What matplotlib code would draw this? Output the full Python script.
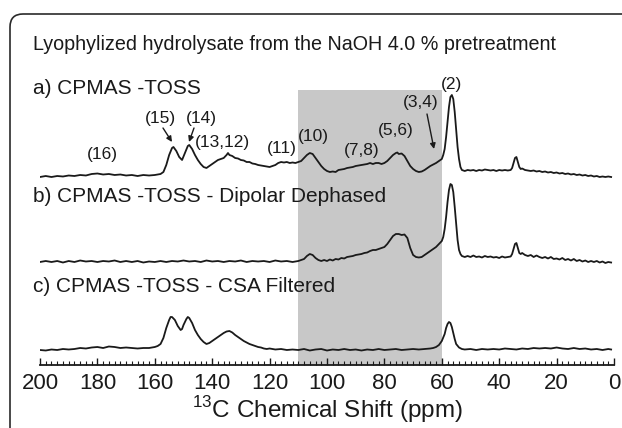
import matplotlib
matplotlib.use("Agg")
import matplotlib.pyplot as plt
from matplotlib.patches import FancyBboxPatch
from matplotlib.ticker import MultipleLocator

plt.rcParams['font.family'] = ['Liberation Sans', 'DejaVu Sans']
plt.rcParams['mathtext.fontset'] = 'custom'
plt.rcParams['mathtext.rm'] = 'Liberation Sans'

# ---------------- data (ppm, intensity above own baseline) ----------------
ppm_a = [200, 198, 196, 194, 192, 190, 188, 186, 184, 182, 180, 178, 176, 174, 172, 170, 168, 166, 164, 162,
         160, 158, 157, 156, 155, 154, 153.5, 152.5, 151.5, 150.5, 149.5, 148.5, 148, 147, 146, 145, 144, 143,
         142, 141, 140, 139, 138, 137, 136, 135, 134.5, 134, 133, 132, 131, 130, 129, 128, 127, 126, 125, 124,
         123, 122, 121, 120, 119, 118, 117, 116, 115, 114, 113, 112, 111, 110, 109, 108, 107, 106, 105, 104,
         103, 102, 101, 100, 99, 98, 97, 96, 95, 94, 93, 92, 91, 90, 89, 88, 87, 86, 85, 84, 83, 82, 81, 80,
         79, 78, 77, 76, 75.5, 75, 74, 73, 72, 71, 70, 69, 68, 67, 66, 65, 64, 63, 62, 61, 60, 59.5, 59, 58.5,
         58, 57.5, 57, 56.5, 56, 55.5, 55, 54.5, 54, 53.5, 53, 52, 51, 50, 49, 48, 47, 46, 45, 44, 43, 42, 41,
         40, 39, 38, 37, 36, 35.5, 35, 34.5, 34, 33.5, 33, 32.5, 32, 31, 30, 29, 28, 27, 26, 25, 24, 23, 22,
         21, 20, 19, 18, 17, 16, 15, 14, 13, 12, 11, 10, 9, 8, 7, 6, 5, 4, 3, 2, 1]
int_a = [0, 1, 0, 1, 0.5, 1.5, 1, 2, 1.5, 3, 3.5, 2.5, 3, 2, 2.5, 1.5, 2, 1, 2, 1.5,
         2, 3, 5, 12, 22, 29, 30, 26, 20, 17, 24, 31, 32, 28, 22, 17, 13, 10,
         9, 11, 13, 15, 17, 18, 19, 22, 24, 22, 21, 19, 18.5, 17, 16.5, 15, 15, 13.5, 13, 12,
         11.5, 11, 10.5, 10, 11, 12, 14, 15, 14.5, 15, 14, 14.5, 14, 15, 16, 19, 22, 24, 23, 19,
         15, 11, 8, 6, 5, 5.5, 5, 7, 7.5, 8, 9, 9.5, 10, 11, 11.5, 12, 12.5, 13, 14, 13, 14, 14, 13, 14,
         16, 19, 22, 24, 24.5, 23, 23.5, 21, 16, 11, 8, 6, 5, 5.5, 7, 9, 11, 12.5, 14, 16, 18, 22, 28, 40,
         55, 70, 80, 82, 78, 65, 48, 30, 18, 10, 7, 6, 7, 6.5, 7, 6, 7, 6.5, 7.5, 7, 6.5, 7, 6,
         7, 6.5, 7, 6.5, 7, 9, 14, 19, 20, 15, 10, 8, 8.5, 7, 6.5, 6, 6.5, 5.5, 6, 5, 5.5, 4.5, 5,
         4, 4.5, 3.5, 4, 3, 3.5, 2.5, 3, 2, 2.5, 1.5, 2, 1, 1.5, 0.5, 1, 0, 0.5, 0, 0.5, 0]

ppm_b = [200, 198, 196, 194, 192, 190, 188, 186, 184, 182, 180, 178, 176, 174, 172, 170, 168, 166, 164, 162,
         160, 158, 156, 154, 152, 150, 148, 146, 144, 142, 140, 138, 136, 134, 132, 130, 128, 126, 124, 122,
         120, 118, 116, 114, 112, 110, 108, 107, 106, 105, 104, 103, 102, 101, 100, 99, 98, 97, 96, 95, 94,
         93, 92, 91, 90, 89, 88, 87, 86, 85, 84, 83, 82, 81, 80, 79, 78, 77, 76, 75, 74, 73, 72, 71, 70, 69,
         68, 67, 66, 65, 64, 63, 62, 61, 60, 59.5, 59, 58.5, 58, 57.5, 57, 56.5, 56, 55.5, 55, 54.5, 54, 53.5,
         53, 52, 51, 50, 49, 48, 47, 46, 45, 44, 43, 42, 41, 40, 39, 38, 37, 36, 35.5, 35, 34.5, 34, 33.5, 33,
         32.5, 32, 31, 30, 29, 28, 27, 26, 25, 24, 23, 22, 21, 20, 19, 18, 17, 16, 15, 14, 13, 12, 11, 10, 9,
         8, 7, 6, 5, 4, 3, 2, 1]
int_b = [0, 1, 0, 1, -0.5, 1, 0, 1.5, 0.5, 1, 0, 1, 0.5, 1.5, 0, 1, 0, 1, -0.5, 0.5,
         0, 1, 0, 1, 0.5, 1.5, 0.5, 1, 0, 1.5, 0.5, 1, 0, 1, 0.5, 1.5, 0, 1, 0.5, 1,
         0, 1.5, 0.5, 1, 0, 1, 3, 6, 8, 7, 4, 2, 1, 2, 1, 2.5, 1.5, 3, 2.5, 4, 3.5,
         5, 5.5, 6, 7, 7.5, 8, 9, 9.5, 11, 12, 12, 13, 14, 15, 18, 22, 26, 28, 28, 27, 27.5, 24, 14, 7, 5,
         4.5, 5, 7, 9, 11, 13, 15, 18, 21, 25, 33, 45, 60, 72, 78, 77, 70, 55, 38, 22, 12, 8,
         6, 5, 6, 5, 6.5, 5, 5.5, 4.5, 6, 5, 5.5, 4.5, 5, 4, 5.5, 4.5, 5, 5.5, 8, 13, 18, 19, 14, 9,
         8, 9, 7, 6, 7, 5, 6.5, 5, 4, 5, 3.5, 5, 3, 3.5, 2.5, 4, 2, 3, 1.5, 3, 1, 2, 0.5, 1.5, 0,
         1, 0, 1, -0.5, 0.5, -1, 0, -0.5]

ppm_c = [200, 198, 196, 194, 192, 190, 188, 186, 184, 182, 180, 178, 176, 174, 172, 170, 168, 166, 164, 162,
         160, 159, 158, 157, 156, 155, 154.5, 154, 153, 152, 151, 150.5, 150, 149, 148.5, 148, 147, 146, 145,
         144, 143, 142, 141, 140, 139, 138, 137, 136, 135, 134, 133, 132, 131, 130, 129, 128, 127, 126, 125,
         124, 123, 122, 121, 120, 118, 116, 114, 112, 110, 108, 106, 104, 102, 100, 98, 96, 94, 92, 90, 88,
         86, 84, 82, 80, 78, 76, 74, 72, 70, 68, 66, 64, 63, 62, 61, 60, 59, 58.5, 58, 57.5, 57, 56.5, 56,
         55.5, 55, 54, 53, 52, 50, 48, 46, 44, 42, 40, 38, 36, 34, 32, 30, 28, 26, 24, 22, 20, 18, 16, 14,
         12, 10, 8, 6, 4, 2, 1]
int_c = [0, -0.5, 0.5, 0, 1, 0.5, 1, 2, 1.5, 2.5, 3, 2, 3.5, 3, 2, 2.5, 2, 1.5, 2, 2,
         3, 4, 6, 12, 22, 30, 33, 33, 30, 24, 20, 21, 25, 31, 33, 32, 27, 20, 15,
         11, 8, 6, 7, 9, 11, 13, 15, 17, 18.5, 19, 17.5, 15, 13, 11, 9, 7.5, 6, 5, 4,
         3, 2.5, 1.5, 1, 1.5, 0.5, 1, 0, 0.5, 0, 1, -0.5, 0.5, 1, -0.5, 0.5, 0, 1, 0, 0.5, -0.5,
         0.5, 0, 1, 0, 0.5, 1, 0, 0.5, 1, 0.5, 1, 1.5, 2, 3, 5, 9, 16, 22, 26, 28, 27, 23, 17,
         11, 6, 2.5, 1, 0.5, 1, 0, 1, 0.5, 1, 0.5, 1.5, 1, 0.5, 1.5, 1, 2, 1.5, 2, 1.5, 2.5, 1.5, 1, 2,
         1, 1.5, 0.5, 1, 0, 1, 0.5]

trace_labels = ["a) CPMAS -TOSS", "b) CPMAS -TOSS - Dipolar Dephased", "c) CPMAS -TOSS - CSA Filtered"]
title_text = "Lyophylized hydrolysate from the NaOH 4.0 % pretreatment"
peak_labels = ["(16)", "(15)", "(14)", "(13,12)", "(11)", "(10)", "(7,8)", "(5,6)", "(3,4)", "(2)"]
x_ticks = [200, 180, 160, 140, 120, 100, 80, 60, 40, 20, 0]
shade_range = (60, 110)

# ---------------- layout ----------------
W, H = 622, 428
fig = plt.figure(figsize=(W / 100, H / 100), dpi=100)
fig.patch.set_facecolor('white')

ax_left, ax_right, ax_top, ax_bottom = 40, 614, 60, 365
ax = fig.add_axes([ax_left / W, (H - ax_bottom) / H, (ax_right - ax_left) / W, (ax_bottom - ax_top) / H])
ax.set_xlim(200, 0)
ax.set_ylim(0, ax_bottom - ax_top)

def base(ypix):
    return ax_bottom - ypix

offsets = [base(177), base(262), base(350)]
line_kw = dict(color='#1a1a1a', lw=1.3)
for p, v, off in zip([ppm_a, ppm_b, ppm_c], [int_a, int_b, int_c], offsets):
    ax.plot(p, [off + y for y in v], **line_kw, zorder=3)

ax.axvspan(shade_range[0], shade_range[1], ymin=0, ymax=base(90) / (ax_bottom - ax_top),
           color='#c8c8c8', lw=0, zorder=1)

for s in ['top', 'left', 'right']:
    ax.spines[s].set_visible(False)
ax.spines['bottom'].set_linewidth(1.3)
ax.spines['bottom'].set_color('#1a1a1a')
ax.set_yticks([])
ax.set_xticks(x_ticks)
ax.set_xticklabels([str(t) for t in x_ticks])
ax.xaxis.set_minor_locator(MultipleLocator(2))
ax.tick_params(axis='x', which='major', direction='in', length=5, width=1.0, labelsize=16, pad=6,
               color='#1a1a1a', labelcolor='#1a1a1a')
ax.tick_params(axis='x', which='minor', direction='in', length=2.8, width=0.8, color='#1a1a1a')
ax.patch.set_alpha(0)

def fp(x, y):
    return (x, H - y)

txt_kw = dict(xycoords='figure pixels', color='#1a1a1a')
ax.annotate(title_text, xy=fp(33, 44), ha='left', va='center', fontsize=14.2, **txt_kw)
for lab, ypix in zip(trace_labels, [88, 197, 286]):
    ax.annotate(lab, xy=fp(33, ypix), ha='left', va='center', fontsize=15, **txt_kw)

peak_pos = [(102, 155), (160, 118), (201, 118), (222, 143), (282, 148), (313, 136),
            (362, 151), (396, 130), (421, 103), (452, 84)]
for lab, (x, y) in zip(peak_labels, peak_pos):
    ax.annotate(lab, xy=fp(x, y), ha='center', va='center', fontsize=12.5, **txt_kw)

arrow_kw = dict(arrowstyle='-|>', color='#1a1a1a', lw=1.0, mutation_scale=8, shrinkA=0, shrinkB=0)
for (x0, y0), (x1, y1) in [((163, 128), (172, 142)), ((194, 128), (189, 142)), ((427, 114), (434, 149))]:
    ax.annotate('', xy=fp(x1, y1), xytext=fp(x0, y0), xycoords='figure pixels',
                textcoords='figure pixels', arrowprops=arrow_kw)

ax.annotate(r'$^{13}$C Chemical Shift (ppm)', xy=fp(327, 410), ha='center', va='center',
            fontsize=17.5, **txt_kw)

# rounded frame extending beyond the right/bottom edge
frame = FancyBboxPatch((10 / 100, -0.5), 7.0, (H - 14) / 100 + 0.5,
                       boxstyle='round,pad=0,rounding_size=0.13', transform=fig.dpi_scale_trans,
                       fill=False, edgecolor='#2a2a2a', lw=1.2)
fig.add_artist(frame)

fig.savefig('out.png', dpi=100)
